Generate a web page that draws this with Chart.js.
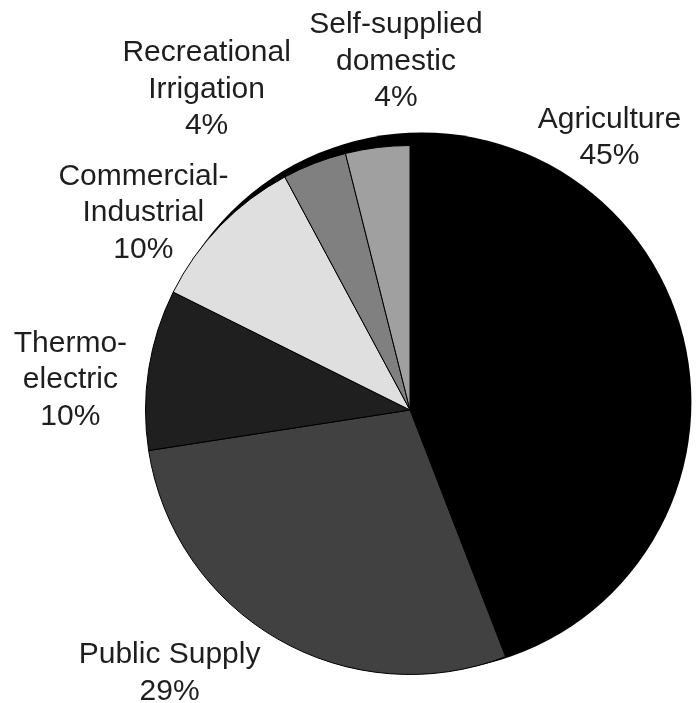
<!DOCTYPE html>
<html>
<head>
<meta charset="utf-8">
<title>Water use by sector</title>
<script src="https://cdn.jsdelivr.net/npm/chart.js@4.4.1/dist/chart.umd.min.js"></script>
<style>
  html, body { margin: 0; padding: 0; background: #fff; }
  canvas { display: block; }
</style>
</head>
<body>
<canvas id="pieChart" width="697" height="703"></canvas>
<script>
const sectors = [
  ['Agriculture'],
  ['Public Supply'],
  ['Thermo-', 'electric'],
  ['Commercial-', 'Industrial'],
  ['Recreational', 'Irrigation'],
  ['Self-supplied', 'domestic']
];
const shares = [45, 29, 10, 10, 4, 4];
const shades = ['#000000', '#414141', '#1f1f1f', '#dfdfdf', '#808080', '#a0a0a0'];

// label blocks, as fractions of the pie radius from the centre
// (x = centre of the text, y = first baseline)
const labelSpots = [
  [0.754, -1.068],
  [-0.909, 0.958],
  [-1.284, -0.220],
  [-1.008, -0.852],
  [-0.769, -1.318],
  [-0.053, -1.424]
];
const lineGap = 36.5;

// black disc that peeks out behind the top right of the pie
const backDisc = {
  id: 'backDisc',
  beforeDatasetsDraw(chart) {
    const arc = chart.getDatasetMeta(0).data[0];
    const r = arc.outerRadius;
    const ctx = chart.ctx;
    ctx.save();
    ctx.fillStyle = '#000';
    ctx.beginPath();
    ctx.arc(arc.x + r * 0.045, arc.y - r * 0.03, r * 1.019, 0, Math.PI * 2);
    ctx.fill();
    ctx.restore();
  }
};

const outsideLabels = {
  id: 'outsideLabels',
  afterDatasetsDraw(chart) {
    const meta = chart.getDatasetMeta(0);
    const values = chart.data.datasets[0].data;
    const ctx = chart.ctx;
    ctx.save();
    ctx.font = '30px "Liberation Sans", Arial, sans-serif';
    ctx.fillStyle = '#1e1e1e';
    ctx.textAlign = 'center';
    ctx.textBaseline = 'alphabetic';
    meta.data.forEach((arc, i) => {
      const r = arc.outerRadius;
      const x = arc.x + labelSpots[i][0] * r;
      let y = arc.y + labelSpots[i][1] * r;
      const lines = sectors[i].concat(values[i] + '%');
      lines.forEach(line => {
        ctx.fillText(line, x, y);
        y += lineGap;
      });
    });
    ctx.restore();
  }
};

const ctx = document.getElementById('pieChart').getContext('2d');
const pieChart = new Chart(ctx, {
  type: 'pie',
  data: {
    labels: sectors,
    datasets: [{
      data: shares,
      backgroundColor: shades,
      borderColor: '#000',
      borderWidth: 1,
      hoverOffset: 0
    }]
  },
  options: {
    responsive: false,
    animation: false,
    layout: {
      padding: { left: 145, top: 145, right: 22, bottom: 28 }
    },
    plugins: {
      legend: { display: false },
      tooltip: { enabled: false }
    }
  },
  plugins: [backDisc, outsideLabels]
});
</script>
</body>
</html>
